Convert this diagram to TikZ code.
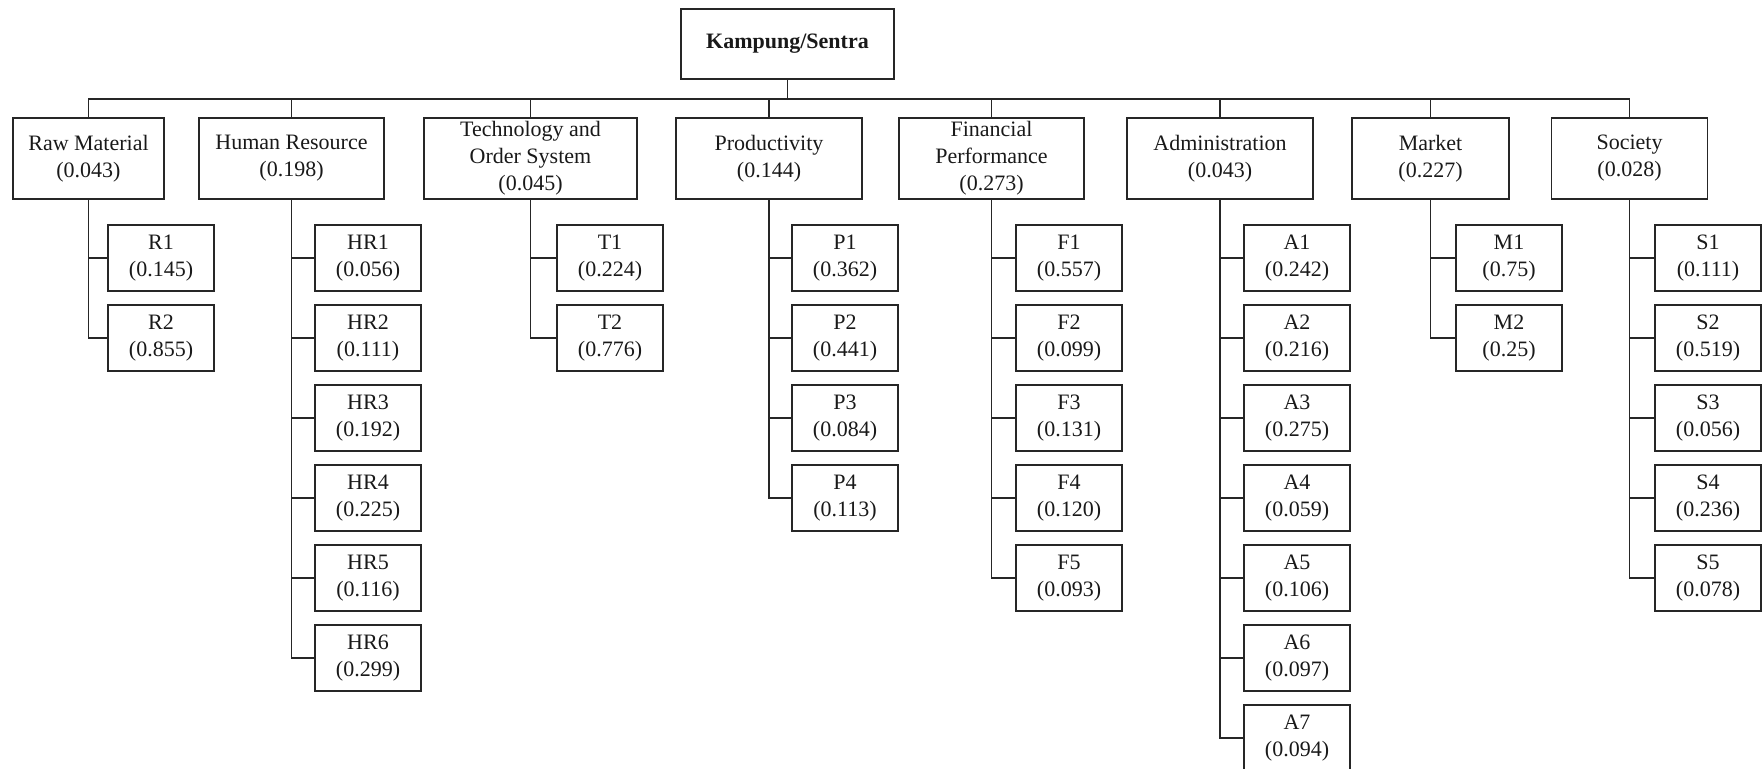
\documentclass[tikz,border=0pt]{standalone}
\usepackage{fontspec}
\setmainfont{Liberation Serif}
\begin{document}
\begin{tikzpicture}[x=1pt,y=-1pt,
  box/.style={draw=black!85, line width=1.2pt, rectangle, inner sep=0pt, align=center,
              text=black!90, font=\fontsize{22}{27}\selectfont},
  topbox/.style={box, minimum height=81pt},
  subbox/.style={box, minimum width=106pt, minimum height=66pt},
  link/.style={draw=black!85, line width=1.2pt}]
\useasboundingbox (0,0) rectangle (1763,768);

% goal
\node[box, minimum width=213pt, minimum height=70pt,
      font=\fontsize{22}{27}\selectfont\bfseries] (root) at (787.5,44) {Kampung/Sentra};

% criteria
\node[topbox, minimum width=151pt] (raw)  at (88.5,158.5)  {Raw Material\\(0.043)};
\node[topbox, minimum width=185pt] (hr)   at (291.5,158.5) {Human Resource\\(0.198)};
\node[topbox, minimum width=213pt] (tech) at (530.5,158.5) {Technology and\\Order System\\(0.045)};
\node[topbox, minimum width=186pt] (prod) at (769,158.5)   {Productivity\\(0.144)};
\node[topbox, minimum width=185pt] (fin)  at (991.5,158.5) {Financial\\Performance\\(0.273)};
\node[topbox, minimum width=186pt] (adm)  at (1220,158.5)  {Administration\\(0.043)};
\node[topbox, minimum width=157pt] (mkt)  at (1430.5,158.5){Market\\(0.227)};
\node[topbox, minimum width=156pt] (soc)  at (1629.5,158.5){Society\\(0.028)};

% bus between goal and criteria
\coordinate (bus) at (0,99);
\draw[link] (root.south) -- (root.south |- bus);
\draw[link] (raw.north) -- (raw.north |- bus) -| (soc.north);
\foreach \p in {hr,tech,prod,fin,adm,mkt}
  \draw[link] (\p.north) -- (\p.north |- bus);

% sub-criteria
\foreach \lab/\val [count=\i] in {R1/0.145, R2/0.855} {
  \node[subbox] (\lab) at (161,{258+80*(\i-1)}) {\lab\\(\val)};
  \draw[link] (raw.south) |- (\lab.west);
}
\foreach \lab/\val [count=\i] in {HR1/0.056, HR2/0.111, HR3/0.192, HR4/0.225, HR5/0.116, HR6/0.299} {
  \node[subbox] (\lab) at (368,{258+80*(\i-1)}) {\lab\\(\val)};
  \draw[link] (hr.south) |- (\lab.west);
}
\foreach \lab/\val [count=\i] in {T1/0.224, T2/0.776} {
  \node[subbox] (\lab) at (610,{258+80*(\i-1)}) {\lab\\(\val)};
  \draw[link] (tech.south) |- (\lab.west);
}
\foreach \lab/\val [count=\i] in {P1/0.362, P2/0.441, P3/0.084, P4/0.113} {
  \node[subbox] (\lab) at (845,{258+80*(\i-1)}) {\lab\\(\val)};
  \draw[link] (prod.south) |- (\lab.west);
}
\foreach \lab/\val [count=\i] in {F1/0.557, F2/0.099, F3/0.131, F4/0.120, F5/0.093} {
  \node[subbox] (\lab) at (1069,{258+80*(\i-1)}) {\lab\\(\val)};
  \draw[link] (fin.south) |- (\lab.west);
}
\foreach \lab/\val [count=\i] in {A1/0.242, A2/0.216, A3/0.275, A4/0.059, A5/0.106, A6/0.097, A7/0.094} {
  \node[subbox] (\lab) at (1297,{258+80*(\i-1)}) {\lab\\(\val)};
  \draw[link] (adm.south) |- (\lab.west);
}
\foreach \lab/\val [count=\i] in {M1/0.75, M2/0.25} {
  \node[subbox] (\lab) at (1509,{258+80*(\i-1)}) {\lab\\(\val)};
  \draw[link] (mkt.south) |- (\lab.west);
}
\foreach \lab/\val [count=\i] in {S1/0.111, S2/0.519, S3/0.056, S4/0.236, S5/0.078} {
  \node[subbox] (\lab) at (1708,{258+80*(\i-1)}) {\lab\\(\val)};
  \draw[link] (soc.south) |- (\lab.west);
}
\end{tikzpicture}
\end{document}
